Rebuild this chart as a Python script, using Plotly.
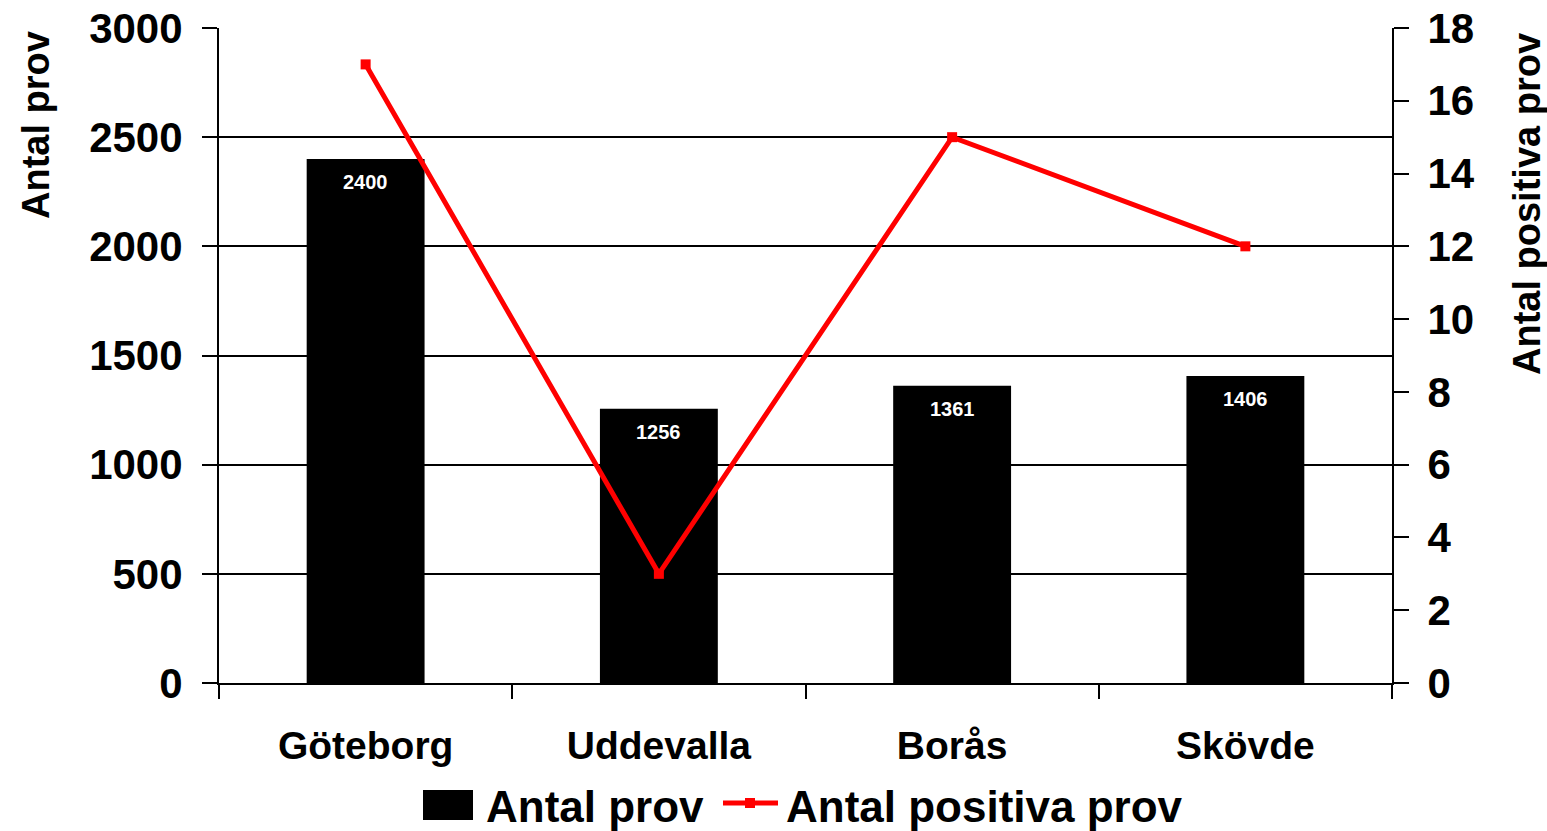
import plotly.graph_objects as go

categories = ["Göteborg", "Uddevalla", "Borås", "Skövde"]
antal_prov = [2400, 1256, 1361, 1406]
antal_positiva = [17, 3, 15, 12]
left_ticks = [0, 500, 1000, 1500, 2000, 2500, 3000]
right_ticks = [0, 2, 4, 6, 8, 10, 12, 14, 16, 18]

W, H = 1547, 831
L, R, T, B = 219, 1392, 28, 683  # plot area in pixels


def px(xp):
    return (xp - L) / (R - L)


def py(yp):
    return (B - yp) / (B - T)


FONT = "Liberation Sans, Arial, sans-serif"

fig = go.Figure()
fig.add_trace(go.Bar(
    x=categories, y=antal_prov, name="Antal prov",
    marker=dict(color="black", line=dict(width=0)),
    width=0.402, yaxis="y", showlegend=False,
))
fig.add_trace(go.Scatter(
    x=categories, y=antal_positiva, name="Antal positiva prov",
    mode="lines+markers", yaxis="y2",
    line=dict(color="#FF0000", width=5),
    marker=dict(symbol="square", size=10, color="#FF0000"),
    showlegend=False,
))

annotations = []
for c, v in zip(categories, antal_prov):
    annotations.append(dict(
        x=c, y=v, xref="x", yref="y", text=str(v), showarrow=False,
        yanchor="top", yshift=-10,
        font=dict(family=FONT, size=20, color="white", weight="bold"),
    ))

# axis titles
annotations.append(dict(
    x=px(36), y=py(125), xref="paper", yref="paper", text="Antal prov",
    textangle=-90, showarrow=False, xanchor="center", yanchor="middle",
    font=dict(family=FONT, size=38, color="black", weight="bold"),
))
annotations.append(dict(
    x=px(1527), y=py(204), xref="paper", yref="paper", text="Antal positiva prov",
    textangle=-90, showarrow=False, xanchor="center", yanchor="middle",
    font=dict(family=FONT, size=38, color="black", weight="bold"),
))

# legend (drawn manually)
annotations.append(dict(
    x=px(484), y=py(806), xref="paper", yref="paper", text="Antal prov",
    showarrow=False, xanchor="left", yanchor="middle",
    font=dict(family=FONT, size=44, color="black", weight="bold"),
))
annotations.append(dict(
    x=px(784), y=py(806), xref="paper", yref="paper", text="Antal positiva prov",
    showarrow=False, xanchor="left", yanchor="middle",
    font=dict(family=FONT, size=44, color="black", weight="bold"),
))

shapes = [
    dict(type="rect", xref="paper", yref="paper",
         x0=px(423), x1=px(473), y0=py(820), y1=py(790),
         fillcolor="black", line=dict(width=0)),
    dict(type="line", xref="paper", yref="paper",
         x0=px(723), x1=px(778), y0=py(803), y1=py(803),
         line=dict(color="#FF0000", width=5)),
    dict(type="rect", xref="paper", yref="paper",
         x0=px(745), x1=px(755), y0=py(808), y1=py(798),
         fillcolor="#FF0000", line=dict(width=0)),
]

fig.update_layout(
    template="none",
    width=W, height=H,
    margin=dict(l=L, r=W - R, t=T, b=H - B, pad=0),
    paper_bgcolor="white", plot_bgcolor="white",
    showlegend=False,
    bargap=0.598,
    xaxis=dict(
        type="category", automargin=False,
        showline=True, linecolor="black", linewidth=2,
        ticks="outside", tickson="boundaries", ticklen=14, tickwidth=2, tickcolor="black",
        showgrid=False, zeroline=False,
        tickfont=dict(family=FONT, size=39, color="black", weight="bold"),
        ticklabelstandoff=27,
    ),
    yaxis=dict(
        range=[0, 3000], tickvals=left_ticks, automargin=False,
        showline=True, linecolor="black", linewidth=2,
        ticks="outside", ticklen=15, tickwidth=2, tickcolor="black",
        showgrid=True, gridcolor="black", gridwidth=1.5,
        zeroline=False,
        tickfont=dict(family=FONT, size=42, color="black", weight="bold"),
        ticklabelstandoff=11,
    ),
    yaxis2=dict(
        range=[0, 18], tickvals=right_ticks, overlaying="y", side="right",
        automargin=False,
        showline=True, linecolor="black", linewidth=2,
        ticks="outside", ticklen=15, tickwidth=2, tickcolor="black",
        showgrid=False, zeroline=False,
        tickfont=dict(family=FONT, size=42, color="black", weight="bold"),
        ticklabelstandoff=10,
    ),
    annotations=annotations,
    shapes=shapes,
)

fig.write_html(
    "out.html",
    config={"displayModeBar": False},
    post_script="document.body.style.margin='0px';document.body.style.overflow='hidden';",
)
